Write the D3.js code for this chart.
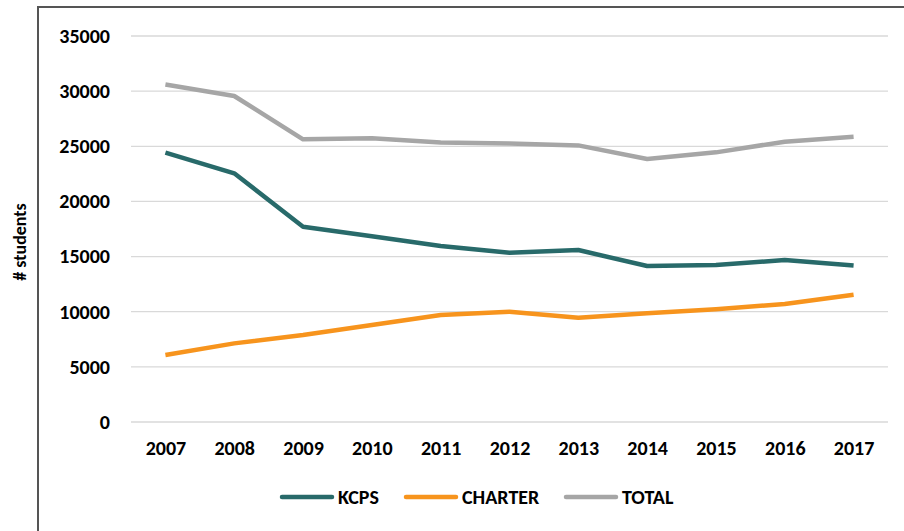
<!DOCTYPE html>
<html>
<head>
<meta charset="utf-8">
<script src="https://cdn.jsdelivr.net/npm/d3@7"></script>
<style>
  body { margin: 0; background: #fff; }
  svg { display: block; font-family: Carlito, Lato, "Open Sans", sans-serif; }
</style>
</head>
<body>
<svg id="svg" width="904" height="531"></svg>
<script>
const years = ['2007', '2008', '2009', '2010', '2011', '2012', '2013', '2014', '2015', '2016', '2017']
const kcps = [24420, 22550, 17710, 16850, 15960, 15350, 15590, 14140, 14230, 14690, 14200]
const charter = [6075, 7130, 7890, 8800, 9700, 10000, 9460, 9850, 10220, 10700, 11540]
const total = [30600, 29560, 25630, 25720, 25350, 25260, 25080, 23850, 24450, 25420, 25870]
const yTicks = [0, 5000, 10000, 15000, 20000, 25000, 30000, 35000]

const series = [
  { name: 'KCPS', values: kcps, color: '#286a6a' },
  { name: 'CHARTER', values: charter, color: '#f7941d' },
  { name: 'TOTAL', values: total, color: '#a6a6a6' }
]

const margin = { top: 36, right: 16, bottom: 109, left: 131 }
const width = 904 - (margin.left + margin.right)
const height = 531 - (margin.top + margin.bottom)

const svg = d3.select('#svg')

// frame of the chart area
svg.append('rect')
  .attr('x', 38).attr('y', 7)
  .attr('width', 900).attr('height', 600)
  .attr('fill', 'none')
  .attr('stroke', '#555')
  .attr('stroke-width', 2)

const xscale = d3.scalePoint()
  .domain(years)
  .range([margin.left, margin.left + width])
  .padding(0.5)

const yscale = d3.scaleLinear()
  .domain([0, 35000])
  .range([margin.top + height, margin.top])

// gridlines
svg.append('g')
  .selectAll('line')
  .data(yTicks)
  .enter()
  .append('line')
  .attr('x1', margin.left)
  .attr('x2', margin.left + width)
  .attr('y1', d => yscale(d))
  .attr('y2', d => yscale(d))
  .attr('stroke', '#d9d9d9')
  .attr('stroke-width', 1.3)

const leftAxis = d3.axisLeft(yscale)
  .tickValues(yTicks)
  .tickFormat(d3.format('d'))
  .tickSize(0)
  .tickPadding(21)

svg.append('g')
  .attr('transform', `translate(${margin.left}, 0)`)
  .call(leftAxis)
  .call(g => g.select('.domain').remove())
  .selectAll('text')
  .attr('font-size', 20)
  .attr('font-weight', 'bold')
  .attr('font-family', 'Carlito, Lato, sans-serif')
  .attr('fill', '#000')

const bottomAxis = d3.axisBottom(xscale).tickSize(0).tickPadding(19)

svg.append('g')
  .attr('transform', `translate(0, ${margin.top + height})`)
  .call(bottomAxis)
  .call(g => g.select('.domain').remove())
  .selectAll('text')
  .attr('font-size', 20)
  .attr('font-weight', 'bold')
  .attr('font-family', 'Carlito, Lato, sans-serif')
  .attr('fill', '#000')

// y axis title
svg.append('text')
  .attr('transform', 'translate(26, 242) rotate(-90)')
  .attr('text-anchor', 'middle')
  .attr('font-size', 18)
  .attr('font-weight', 'bold')
  .text('# students')

const line = d3.line()
  .x((d, i) => xscale(years[i]))
  .y(d => yscale(d))

svg.append('g')
  .selectAll('path')
  .data(series)
  .enter()
  .append('path')
  .attr('d', d => line(d.values))
  .attr('fill', 'none')
  .attr('stroke', d => d.color)
  .attr('stroke-width', 4.5)
  .attr('stroke-linejoin', 'round')

// legend
const legendX = [282, 406, 566]
const legend = svg.append('g')
  .selectAll('g')
  .data(series)
  .enter()
  .append('g')
  .attr('transform', (d, i) => `translate(${legendX[i]}, 497)`)

legend.append('line')
  .attr('x1', 0).attr('x2', 50)
  .attr('stroke', d => d.color)
  .attr('stroke-width', 4.5)
  .attr('stroke-linecap', 'round')

legend.append('text')
  .attr('x', 56)
  .attr('dy', '0.35em')
  .attr('font-size', 20)
  .attr('font-weight', 'bold')
  .text(d => d.name)
</script>
</body>
</html>
